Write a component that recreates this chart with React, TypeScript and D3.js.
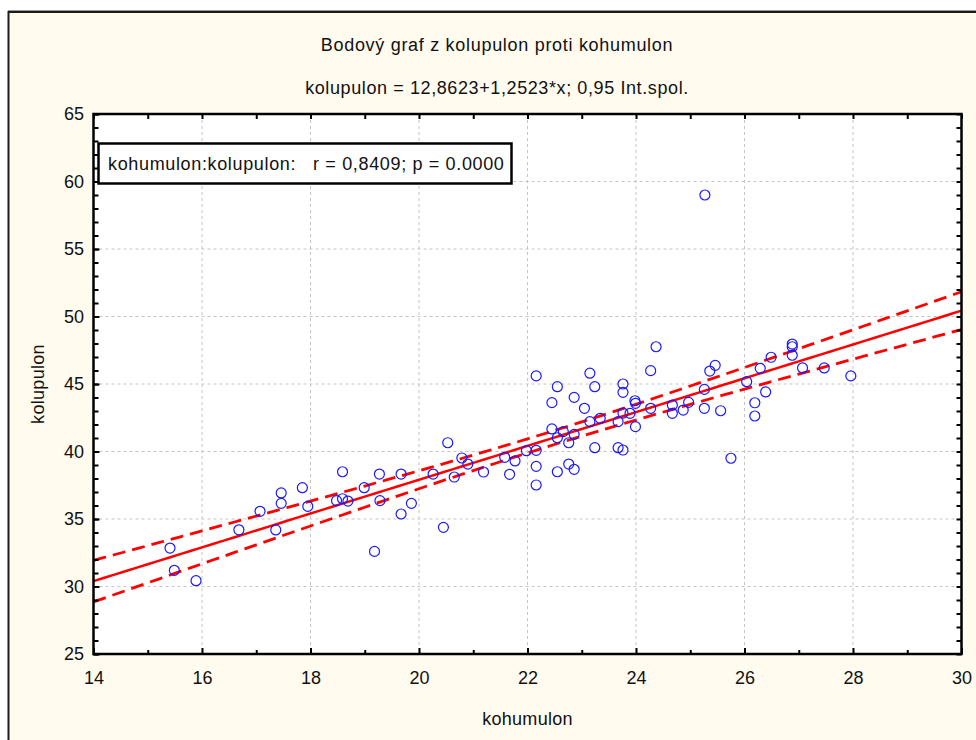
import React, { useRef, useEffect } from 'react';
import * as d3 from 'd3';

// values
const kohumulon = [
    15.41, 15.49, 15.89, 16.68, 17.07, 17.36, 17.46, 17.46, 17.85, 17.95,
    18.48, 18.59, 18.69, 18.59, 18.99, 19.18, 19.27, 19.28, 19.67, 19.67,
    19.86, 20.26, 20.45, 20.53, 20.65, 20.79, 20.9, 21.19, 21.58, 21.67,
    21.77, 21.98, 22.16, 22.16, 22.16, 22.16, 22.45, 22.55, 22.45, 22.55,
    22.66, 22.76, 22.55, 22.76, 22.86, 22.86, 22.86, 23.05, 23.15, 23.24,
    23.15, 23.34, 23.24, 23.67, 23.67, 23.76, 23.76, 23.76, 23.76, 23.89,
    23.98, 23.99, 23.99, 24.37, 24.27, 24.27, 24.67, 24.67, 24.87, 24.97,
    25.26, 25.26, 25.36, 25.46, 25.56, 25.75, 26.04, 26.19, 26.19, 26.29,
    26.39, 26.49, 26.88, 26.88, 26.88, 27.07, 27.47, 27.96, 25.27
];
const kolupulon = [
    32.85, 31.2, 30.43, 34.2, 35.57, 34.19, 36.16, 36.93, 37.32, 35.94,
    36.36, 36.5, 36.33, 38.5, 37.32, 32.6, 38.33, 36.36, 38.33, 35.37,
    36.16, 38.33, 34.38, 40.65, 38.11, 39.52, 39.07, 38.48, 39.57, 38.31,
    39.3, 40.06, 45.6, 40.09, 38.9, 37.52, 43.62, 44.8, 41.67, 41.02,
    41.47, 40.65, 38.5, 39.07, 38.68, 44.01, 41.27, 43.2, 45.8, 44.8,
    42.21, 42.46, 40.28, 42.21, 40.28, 40.11, 42.85, 44.38, 45.0, 42.83,
    43.76, 43.57, 41.84, 47.76, 45.99, 43.2, 43.44, 42.83, 43.07, 43.64,
    44.6, 43.2, 45.96, 46.38, 43.02, 39.5, 45.17, 43.61, 42.63, 46.16,
    44.41, 46.98, 47.96, 47.76, 47.13, 46.19, 46.19, 45.6, 59.0
];

const xTicks = [14, 16, 18, 20, 22, 24, 26, 28, 30];
const yTicks = [25, 30, 35, 40, 45, 50, 55, 60, 65];
const xMinor = [15, 17, 19, 21, 23, 25, 27, 29];
const yMinor = d3.range(25, 66, 1);

const intercept = 12.8623;
const slope = 1.2523;

const title = 'Bodový graf z kolupulon proti kohumulon';
const subtitle = 'kolupulon = 12,8623+1,2523*x; 0,95 Int.spol.';
const legendText = 'kohumulon:kolupulon:   r = 0,8409; p = 0.0000';
const xLabel = 'kohumulon';
const yLabel = 'kolupulon';

const FONT = '"Liberation Sans", Arial, sans-serif';

const ScatterChart = ({ width, height }) => {
    const svgRef = useRef();

    useEffect(() => {
        const svg = d3.select(svgRef.current);
        svg.selectAll('*').remove();

        const left = 93.5, right = 961.5, top = 114, bottom = 654;

        const xScale = d3.scaleLinear().domain([14, 30]).range([left, right]);
        const yScale = d3.scaleLinear().domain([25, 65]).range([bottom, top]);

        // outer frame
        svg.append('rect')
            .attr('x', 8.5).attr('y', 12)
            .attr('width', width).attr('height', height)
            .attr('fill', '#fffbef')
            .attr('stroke', '#1c1c1c')
            .attr('stroke-width', 2);
        svg.append('line')
            .attr('x1', 8).attr('x2', width).attr('y1', 10.5).attr('y2', 10.5)
            .attr('stroke', '#9a9a9a');

        // plot area
        svg.append('rect')
            .attr('x', left).attr('y', top)
            .attr('width', right - left).attr('height', bottom - top)
            .attr('fill', '#ffffff');

        svg.append('defs').append('clipPath').attr('id', 'plotClip')
            .append('rect')
            .attr('x', left).attr('y', top)
            .attr('width', right - left).attr('height', bottom - top);

        // grid
        const grid = svg.append('g')
            .attr('stroke', '#c4c4c4')
            .attr('stroke-width', 1)
            .attr('stroke-dasharray', '3 3');
        xTicks.slice(1, -1).forEach(t => {
            grid.append('line')
                .attr('x1', xScale(t)).attr('x2', xScale(t))
                .attr('y1', top).attr('y2', bottom);
        });
        yTicks.slice(1, -1).forEach(t => {
            grid.append('line')
                .attr('x1', left).attr('x2', right)
                .attr('y1', yScale(t)).attr('y2', yScale(t));
        });

        // regression line and 0.95 confidence band
        const n = kohumulon.length;
        const mx = d3.mean(kohumulon);
        const sxx = d3.sum(kohumulon, v => (v - mx) ** 2);
        const sse = d3.sum(kohumulon.map((v, i) => (kolupulon[i] - (intercept + slope * v)) ** 2));
        const s = Math.sqrt(sse / (n - 2));
        const tCrit = 1.9876;
        const xs = d3.range(14, 30.001, 0.2);
        const fit = v => intercept + slope * v;
        const half = v => tCrit * s * Math.sqrt(1 / n + (v - mx) ** 2 / sxx);

        const line = d3.line()
            .x(d => xScale(d[0]))
            .y(d => yScale(d[1]));

        const fitG = svg.append('g').attr('clip-path', 'url(#plotClip)');

        fitG.append('path')
            .attr('d', line(xs.map(v => [v, fit(v)])))
            .attr('fill', 'none')
            .attr('stroke', '#ff0000')
            .attr('stroke-width', 2.5);

        [1, -1].forEach(sign => {
            fitG.append('path')
                .attr('d', line(xs.map(v => [v, fit(v) + sign * half(v)])))
                .attr('fill', 'none')
                .attr('stroke', '#ff0000')
                .attr('stroke-width', 2.8)
                .attr('stroke-dasharray', '13 7');
        });

        // points
        svg.append('g')
            .selectAll('circle')
            .data(kohumulon.map((v, i) => [v, kolupulon[i]]))
            .join('circle')
            .attr('cx', d => xScale(d[0]))
            .attr('cy', d => yScale(d[1]))
            .attr('r', 5)
            .attr('fill', 'none')
            .attr('stroke', '#1a1aff')
            .attr('stroke-width', 1.2);

        // axes, ticks pointing inward on all four sides
        const styleAxis = g => {
            g.select('.domain').remove();
            g.selectAll('line').attr('stroke', '#000').attr('stroke-width', 2);
            g.selectAll('text')
                .attr('font-family', FONT)
                .style('font-size', '18px')
                .attr('fill', '#111');
        };

        svg.append('g')
            .attr('transform', `translate(0,${bottom})`)
            .call(d3.axisBottom(xScale).tickValues(xTicks).tickSize(-6).tickPadding(17.5))
            .call(styleAxis);
        svg.append('g')
            .attr('transform', `translate(0,${bottom})`)
            .call(d3.axisBottom(xScale).tickValues(xMinor).tickSize(-4).tickFormat(''))
            .call(styleAxis);
        svg.append('g')
            .attr('transform', `translate(0,${top})`)
            .call(d3.axisTop(xScale).tickValues(xTicks.concat(xMinor)).tickSize(-5).tickFormat(''))
            .call(styleAxis);

        svg.append('g')
            .attr('transform', `translate(${left},0)`)
            .call(d3.axisLeft(yScale).tickValues(yTicks).tickSize(-6).tickPadding(9.5))
            .call(styleAxis);
        svg.append('g')
            .attr('transform', `translate(${left},0)`)
            .call(d3.axisLeft(yScale).tickValues(yMinor).tickSize(-5).tickFormat(''))
            .call(styleAxis);
        svg.append('g')
            .attr('transform', `translate(${right},0)`)
            .call(d3.axisRight(yScale).tickValues(yMinor).tickSize(-5).tickFormat(''))
            .call(styleAxis);

        svg.append('rect')
            .attr('x', left).attr('y', top)
            .attr('width', right - left).attr('height', bottom - top)
            .attr('fill', 'none')
            .attr('stroke', '#000')
            .attr('stroke-width', 2.5);

        // legend box
        svg.append('rect')
            .attr('x', 98.5).attr('y', 143.5)
            .attr('width', 413).attr('height', 40)
            .attr('fill', '#ffffff')
            .attr('stroke', '#000')
            .attr('stroke-width', 2.5);
        svg.append('text')
            .attr('x', 108).attr('y', 170)
            .attr('font-family', FONT)
            .style('font-size', '18px')
            .style('letter-spacing', '0.65px')
            .style('white-space', 'pre')
            .attr('fill', '#111')
            .text(legendText);

        // titles
        const addText = (txt, x, y, rotate = 0, spacing = 0) =>
            svg.append('text')
                .attr('transform', `translate(${x},${y}) rotate(${rotate})`)
                .attr('text-anchor', 'middle')
                .attr('dy', '0.35em')
                .attr('font-family', FONT)
                .style('font-size', '18px')
                .style('letter-spacing', `${spacing}px`)
                .attr('fill', '#111')
                .text(txt);

        addText(title, 497, 45, 0, 0.7);
        addText(subtitle, 497, 88, 0, 0.6);
        addText(xLabel, (left + right) / 2, 719, 0, 0.3);
        addText(yLabel, 38, (top + bottom) / 2, -90, 0.3);
    }, [width, height]);

    return (
        <svg ref={svgRef} width={width} height={height}
            style={{ position: 'absolute', left: 0, top: 0, background: '#fff' }} />
    );
};

export default function App() {
    return <ScatterChart width={976} height={740} />;
}
